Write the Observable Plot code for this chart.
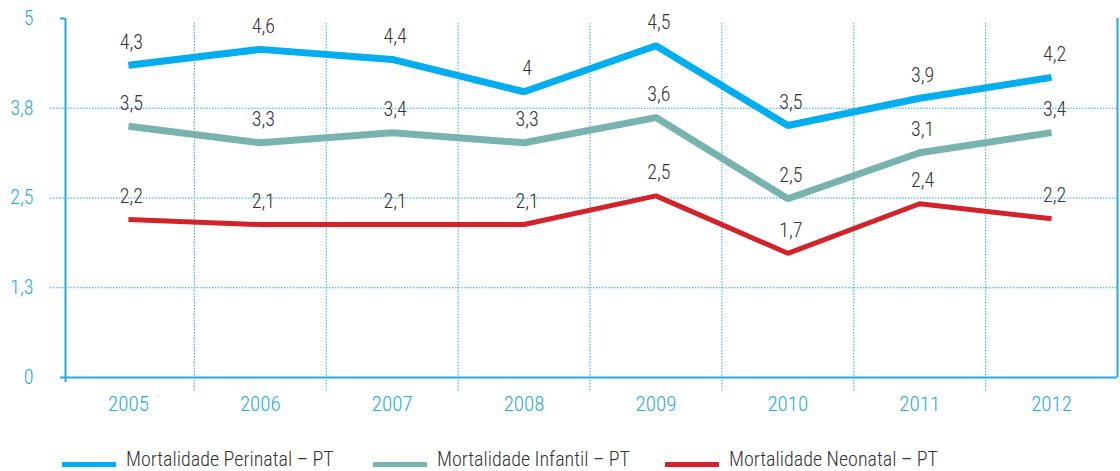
<!DOCTYPE html>
<html>
<head>
<meta charset="utf-8">
<script src="https://cdn.jsdelivr.net/npm/d3@7"></script>
<script src="https://cdn.jsdelivr.net/npm/@observablehq/plot@0.6"></script>
<style>
  body { margin: 0; background: #fff; }
  #wrap { position: relative; width: 1120px; height: 471px; font-family: Roboto, "DejaVu Sans Condensed", sans-serif; font-stretch: 75%; }
  #wrap svg, #wrap svg text { font-stretch: 75%; }
  #legend { position: absolute; top: 447px; left: 0; width: 1120px; height: 24px; }
  .item { position: absolute; top: 0; display: flex; align-items: center; white-space: nowrap; }
  .sw { width: 54px; height: 5px; margin-top: 10px; }
  .lab { margin-left: 10px; font-size: 20px; color: #333; line-height: 24px; font-weight: 300; }
</style>
</head>
<body>
<div id="wrap"><div id="chart"></div><div id="legend"></div></div>
<script>
const years = [2005, 2006, 2007, 2008, 2009, 2010, 2011, 2012];
const perinatal = [4.35, 4.57, 4.43, 3.98, 4.62, 3.51, 3.89, 4.18];
const infantil  = [3.50, 3.27, 3.41, 3.27, 3.62, 2.49, 3.13, 3.41];
const neonatal  = [2.20, 2.13, 2.13, 2.13, 2.53, 1.73, 2.42, 2.21];
const perinatalLabels = ["4,3", "4,6", "4,4", "4", "4,5", "3,5", "3,9", "4,2"];
const infantilLabels  = ["3,5", "3,3", "3,4", "3,3", "3,6", "2,5", "3,1", "3,4"];
const neonatalLabels  = ["2,2", "2,1", "2,1", "2,1", "2,5", "1,7", "2,4", "2,2"];
const seriesNames = ["Mortalidade Perinatal – PT", "Mortalidade Infantil – PT", "Mortalidade Neonatal – PT"];
const seriesColors = ["#00aeef", "#78b3ae", "#d2232a"];
const seriesWidths = [7, 7, 5];
const yTicks = [0, 1.25, 2.5, 3.75, 5];
const yTickLabels = ["0", "1,3", "2,5", "3,8", "5"];
const bandEdges = [2004.5, 2005.5, 2006.5, 2007.5, 2008.5, 2009.5, 2010.5, 2011.5, 2012.5];

const allValues = [perinatal, infantil, neonatal];
const allLabels = [perinatalLabels, infantilLabels, neonatalLabels];
const data = [];
allValues.forEach((vals, s) => vals.forEach((v, i) => data.push({series: seriesNames[s], year: years[i], value: v, label: allLabels[s][i]})));

const blue = "#27aae1";
const font = "Roboto, 'DejaVu Sans Condensed', sans-serif";

const marks = [
  Plot.ruleY(yTicks.slice(1, 4), {stroke: blue, strokeWidth: 1, strokeDasharray: "1.5,1.5", insetLeft: -12}),
  Plot.ruleX(bandEdges.slice(1, 8), {stroke: blue, strokeWidth: 1, strokeDasharray: "1.5,1.5", insetTop: 5, insetBottom: -15}),
  Plot.ruleX([bandEdges[8]], {stroke: blue, strokeWidth: 2}),
  Plot.ruleX([bandEdges[0]], {stroke: blue, strokeWidth: 2, dx: 3, insetBottom: -5}),
  Plot.ruleY([0], {stroke: blue, strokeWidth: 2, insetLeft: -2}),
  Plot.axisY({ticks: [5], tickSize: 5, dx: 3, label: null, tickFormat: () => "", stroke: blue, strokeWidth: 2}),
  Plot.axisY({ticks: yTicks, tickSize: 0, tickPadding: 29, label: null, tickFormat: (d) => yTickLabels[yTicks.indexOf(d)], fill: blue, fontSize: 20, fontWeight: 300}),
  Plot.axisX({ticks: years, tickSize: 0, tickPadding: 19, label: null, tickFormat: (d) => String(d), fill: blue, fontSize: 21, fontWeight: 300}),
];
seriesNames.forEach((name, s) => {
  marks.push(Plot.line(data.filter(d => d.series === name), {x: "year", y: "value", stroke: seriesColors[s], strokeWidth: seriesWidths[s], strokeLinejoin: "miter", strokeLinecap: "butt"}));
});
marks.push(Plot.text(data, {x: "year", y: "value", text: "label", dx: 3, dy: -23, fill: "#333", fontSize: 20, fontWeight: 300}));

const chart = Plot.plot({
  width: 1120,
  height: 425,
  marginLeft: 62,
  marginRight: 3,
  marginTop: 18,
  marginBottom: 48,
  style: {fontFamily: font, background: "#fff"},
  x: {domain: [bandEdges[0], bandEdges[8]], axis: null},
  y: {domain: [0, 5], axis: null},
  marks
});
document.getElementById("chart").appendChild(chart);

const legendLefts = [62, 373, 665];
const legend = document.getElementById("legend");
seriesNames.forEach((name, s) => {
  const item = document.createElement("div");
  item.className = "item";
  item.style.left = legendLefts[s] + "px";
  const sw = document.createElement("span");
  sw.className = "sw";
  sw.style.background = seriesColors[s];
  const lab = document.createElement("span");
  lab.className = "lab";
  lab.textContent = name;
  item.appendChild(sw);
  item.appendChild(lab);
  legend.appendChild(item);
});
</script>
</body>
</html>
